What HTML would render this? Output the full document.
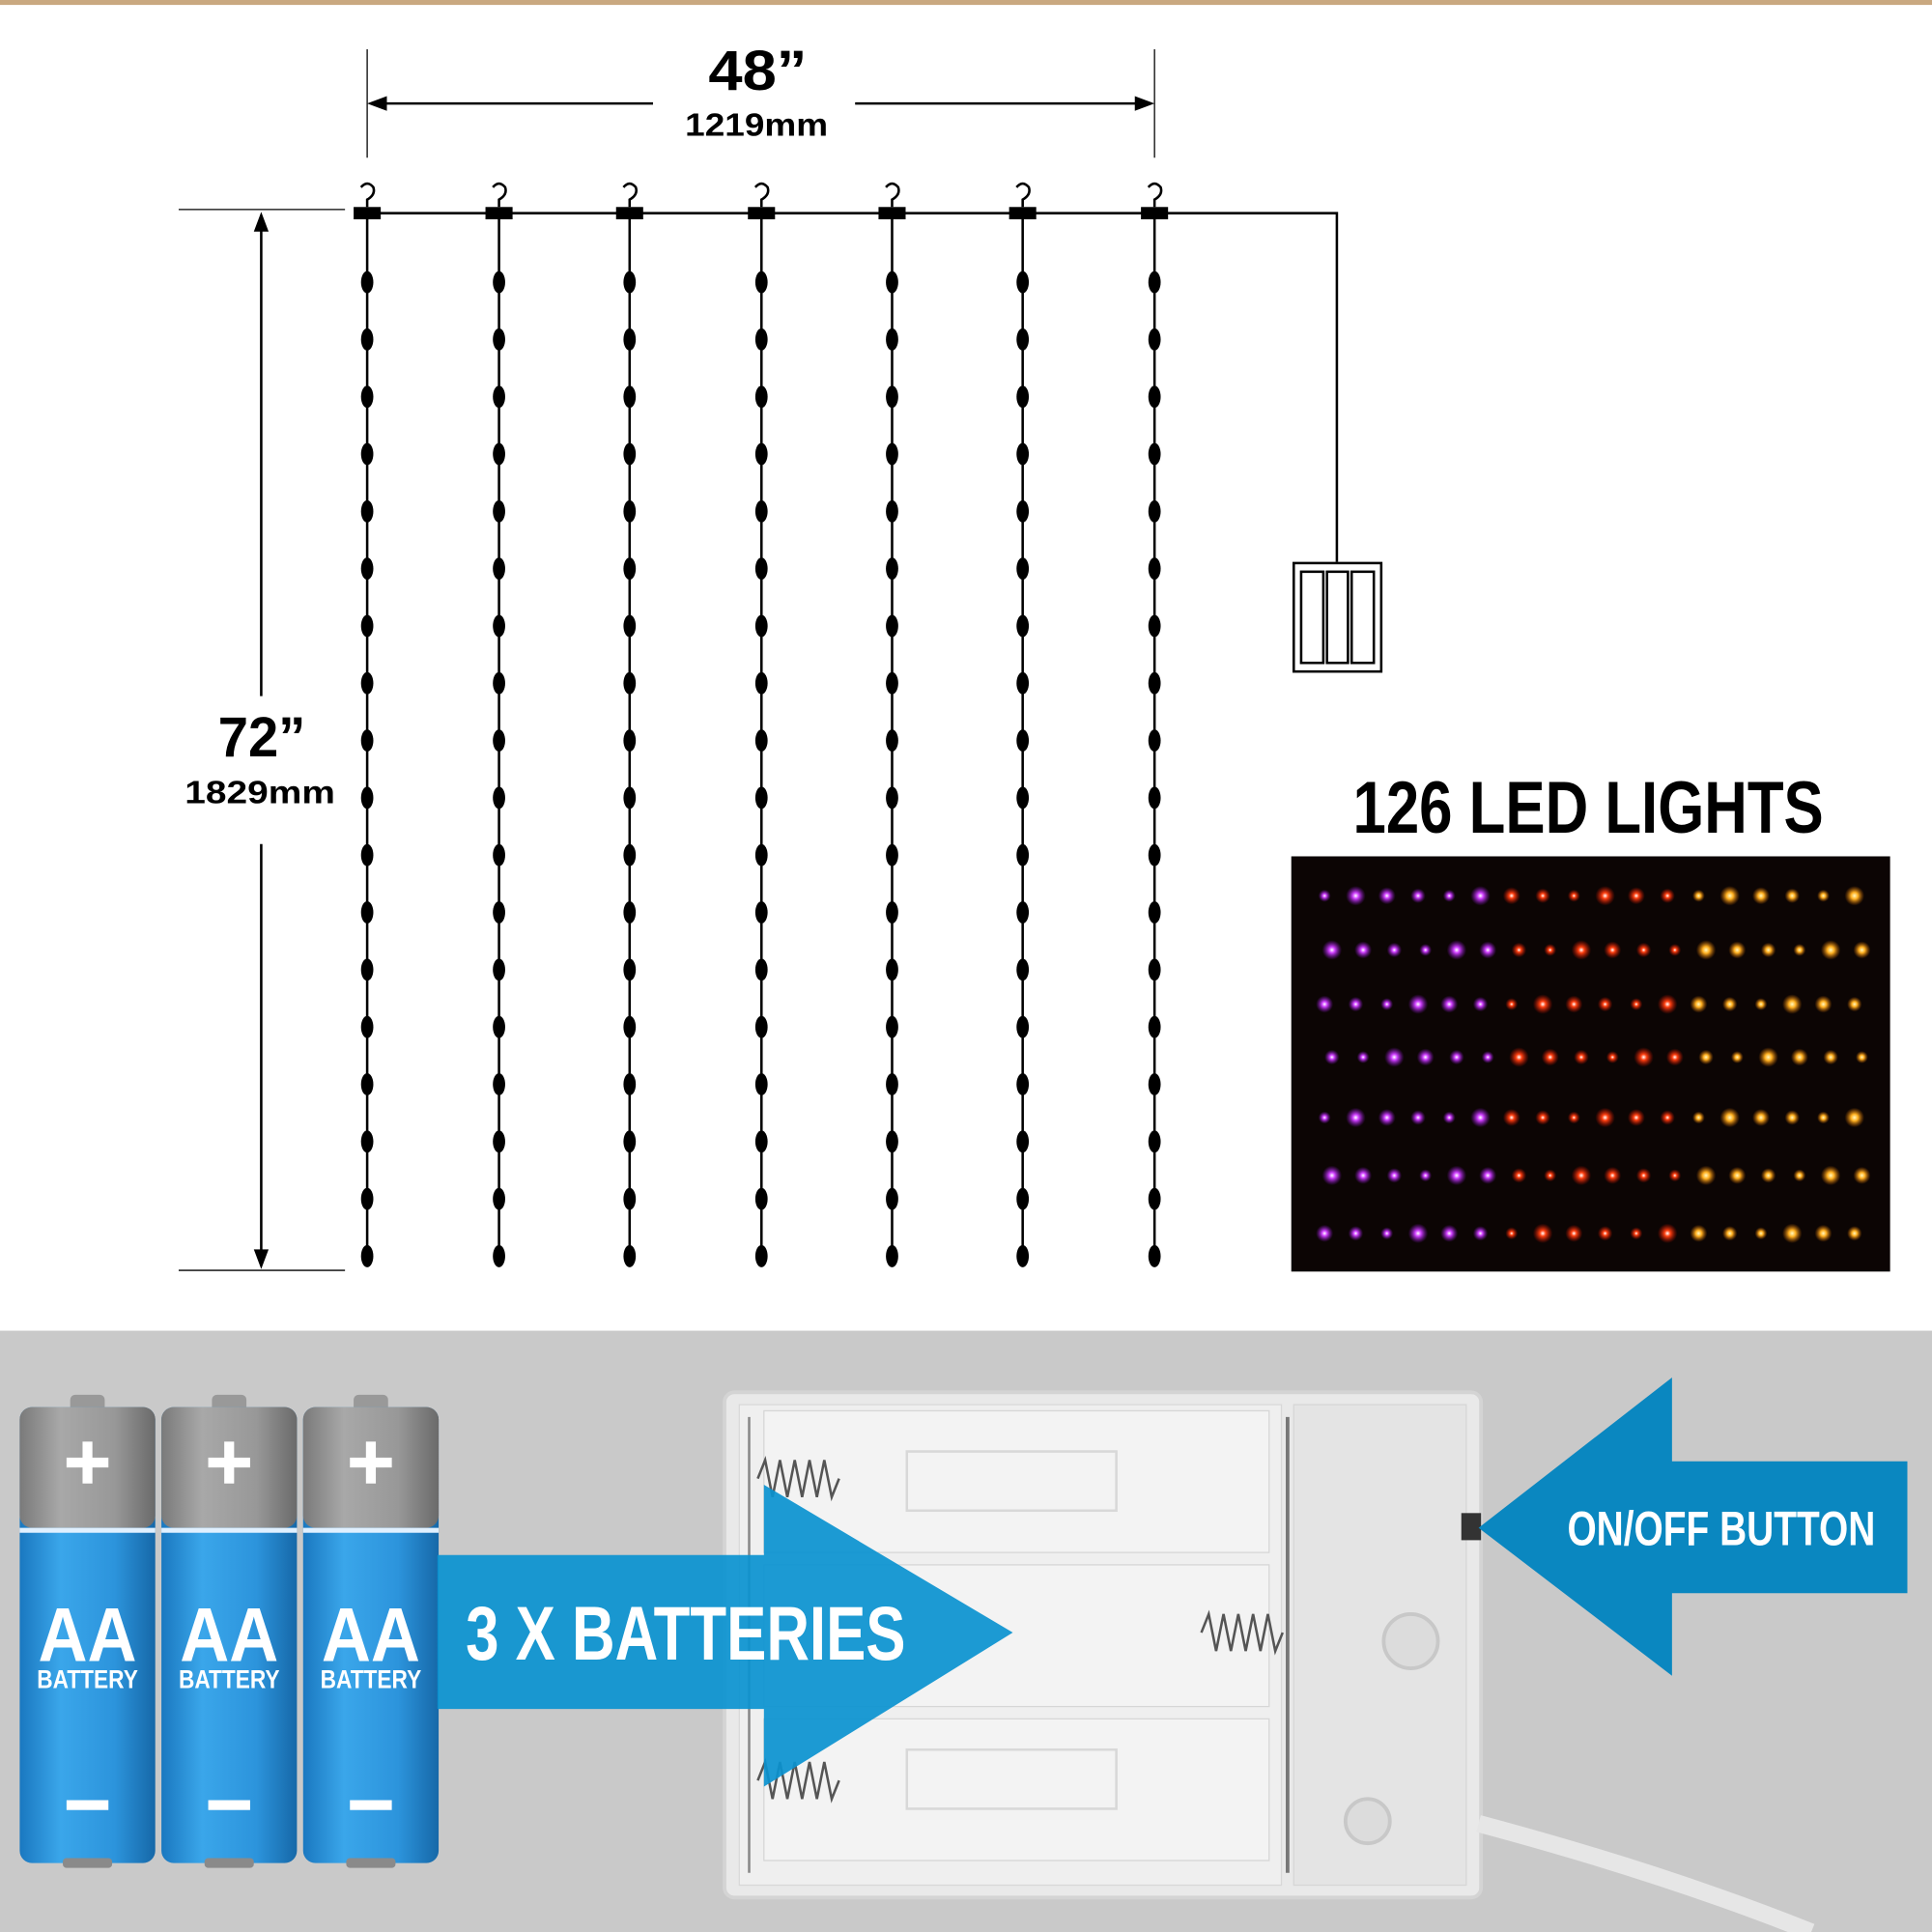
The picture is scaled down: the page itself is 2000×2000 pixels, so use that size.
<!DOCTYPE html>
<html><head><meta charset="utf-8"><style>
html,body{margin:0;padding:0;background:#fff}
svg{display:block}
.t{font-family:"Liberation Sans Narrow","Liberation Sans",sans-serif;font-weight:bold}
</style></head><body>
<svg id="s" width="2000" height="2000" viewBox="0 0 1568 1568" xmlns="http://www.w3.org/2000/svg">
<defs>
<radialGradient id="gp"><stop offset="0" stop-color="#fff"/><stop offset="0.3" stop-color="#d040ff"/><stop offset="1" stop-color="#8010c0" stop-opacity="0"/></radialGradient>
<radialGradient id="gr"><stop offset="0" stop-color="#fff"/><stop offset="0.3" stop-color="#ff4010"/><stop offset="1" stop-color="#c01000" stop-opacity="0"/></radialGradient>
<radialGradient id="gy"><stop offset="0" stop-color="#fff8c0"/><stop offset="0.35" stop-color="#ffb020"/><stop offset="1" stop-color="#c06000" stop-opacity="0"/></radialGradient>
<linearGradient id="bb" x1="0" x2="1"><stop offset="0" stop-color="#1a78c0"/><stop offset="0.3" stop-color="#3aa6ea"/><stop offset="0.7" stop-color="#2c94dc"/><stop offset="1" stop-color="#1668a8"/></linearGradient>
<linearGradient id="bg" x1="0" x2="1"><stop offset="0" stop-color="#7a7a7a"/><stop offset="0.3" stop-color="#a8a8a8"/><stop offset="0.7" stop-color="#989898"/><stop offset="1" stop-color="#6a6a6a"/></linearGradient>
</defs>
<rect x="0" y="0" width="1568" height="4" fill="#c9a880"/>
<g stroke="#000" fill="none">
<line x1="298" y1="40" x2="298" y2="128" stroke-width="1"/>
<line x1="937" y1="40" x2="937" y2="128" stroke-width="1"/>
<line x1="302" y1="84" x2="530" y2="84" stroke-width="2"/>
<line x1="694" y1="84" x2="933" y2="84" stroke-width="2"/>
<line x1="145" y1="170" x2="280" y2="170" stroke-width="1"/>
<line x1="145" y1="1031" x2="280" y2="1031" stroke-width="1"/>
<line x1="212" y1="176" x2="212" y2="565" stroke-width="2"/>
<line x1="212" y1="685" x2="212" y2="1026" stroke-width="2"/>
<polyline points="288,173 1085,173 1085,456" stroke-width="2"/>
<rect x="1050" y="457" width="71" height="88" stroke-width="2"/>
<rect x="1056" y="464" width="18" height="74" stroke-width="2"/>
<rect x="1077" y="464" width="17" height="74" stroke-width="2"/>
<rect x="1097" y="464" width="18" height="74" stroke-width="2"/>
</g>
<polygon points="298,84 314,78 314,90" fill="#000"/>
<polygon points="937,84 921,78 921,90" fill="#000"/>
<polygon points="212,172 206,188 218,188" fill="#000"/>
<polygon points="212,1030 206,1014 218,1014" fill="#000"/>
<text x="575" y="73" class="t" font-size="46" textLength="80" lengthAdjust="spacingAndGlyphs">48”</text>
<text x="556" y="110" class="t" font-size="26" textLength="116" lengthAdjust="spacingAndGlyphs">1219mm</text>
<text x="177" y="614" class="t" font-size="46" textLength="71" lengthAdjust="spacingAndGlyphs">72”</text>
<text x="150" y="652" class="t" font-size="26" textLength="122" lengthAdjust="spacingAndGlyphs">1829mm</text>
<g id="cols"></g>
<text x="1098" y="676" class="t" font-size="60" textLength="382" lengthAdjust="spacingAndGlyphs">126 LED LIGHTS</text>
<rect x="1048" y="695" width="486" height="337" fill="#0c0504"/>
<g id="leds"></g>
<rect x="0" y="1080" width="1568" height="488" fill="#c9c9c9"/>
<rect x="588" y="1130" width="614" height="410" rx="8" fill="#e9e9e9" stroke="#d4d4d4" stroke-width="3"/>
<rect x="600" y="1140" width="440" height="390" fill="#efefef" stroke="#d8d8d8"/>
<rect x="620" y="1145" width="410" height="115" fill="#f3f3f3" stroke="#d6d6d6"/>
<rect x="620" y="1270" width="410" height="115" fill="#f3f3f3" stroke="#d6d6d6"/>
<rect x="620" y="1395" width="410" height="115" fill="#f3f3f3" stroke="#d6d6d6"/>
<rect x="736" y="1178" width="170" height="48" fill="none" stroke="#d8d8d8" stroke-width="2"/>
<rect x="736" y="1420" width="170" height="48" fill="none" stroke="#d8d8d8" stroke-width="2"/>
<rect x="1050" y="1140" width="140" height="390" fill="#e4e4e4" stroke="#d6d6d6"/>
<circle cx="1145" cy="1332" r="22" fill="#dcdcdc" stroke="#c8c8c8" stroke-width="3"/>
<circle cx="1110" cy="1478" r="18" fill="#dcdcdc" stroke="#c8c8c8" stroke-width="3"/>
<line x1="1045" y1="1150" x2="1045" y2="1520" stroke="#777" stroke-width="3"/>
<line x1="608" y1="1150" x2="608" y2="1520" stroke="#888" stroke-width="2"/>
<path d="M1200 1480 Q1350 1520 1470 1568" stroke="#e6e6e6" stroke-width="14" fill="none"/>
<g stroke="#555" stroke-width="2" fill="none">
<path d="M615 1200 l6 -15 l6 30 l6 -30 l6 30 l6 -30 l6 30 l6 -30 l6 30 l6 -30 l6 30 l6 -15"/>
<path d="M615 1445 l6 -15 l6 30 l6 -30 l6 30 l6 -30 l6 30 l6 -30 l6 30 l6 -30 l6 30 l6 -15"/>
<path d="M975 1325 l6 -15 l6 30 l6 -30 l6 30 l6 -30 l6 30 l6 -30 l6 30 l6 -30 l6 30 l6 -15"/>
</g>
<rect x="1186" y="1228" width="16" height="22" fill="#333"/>
<g id="bats"></g>
<polygon points="355,1262 620,1262 620,1205 822,1325 620,1450 620,1387 355,1387" fill="#0a93d0" opacity="0.92"/>
<text x="378" y="1347" class="t" font-size="62" fill="#fff" textLength="357" lengthAdjust="spacingAndGlyphs">3 X BATTERIES</text>
<polygon points="1200,1240 1357,1118 1357,1186 1548,1186 1548,1293 1357,1293 1357,1360" fill="#0a87c0"/>
<text x="1272" y="1254" class="t" font-size="39" fill="#fff" textLength="250" lengthAdjust="spacingAndGlyphs">ON/OFF BUTTON</text>
</svg>
<script>
var NS="http://www.w3.org/2000/svg";
function el(p,n,a){var e=document.createElementNS(NS,n);for(var k in a)e.setAttribute(k,a[k]);p.appendChild(e);return e;}
var cols=document.getElementById("cols");
[298,405,511,618,724,830,937].forEach(function(x){
 el(cols,"line",{x1:x,y1:173,x2:x,y2:1020,stroke:"#000","stroke-width":2});
 el(cols,"rect",{x:x-11,y:168,width:22,height:10,fill:"#000"});
 el(cols,"path",{d:"M"+x+" 168 L"+x+" 162 Q"+(x+7)+" 158 "+(x+5)+" 152 Q"+x+" 146 "+(x-5)+" 152",stroke:"#000","stroke-width":2,fill:"none"});
 for(var i=0;i<18;i++){el(cols,"ellipse",{cx:x,cy:229+i*46.5,rx:5,ry:9,fill:"#000"});}
});
var leds=document.getElementById("leds");
var ys=[727,771,815,858,907,954,1001];
ys.forEach(function(y,r){
 for(var i=0;i<18;i++){
  var x=1075+i*25.3+(r%2?6:0);
  var g=i<6?"gp":(i<12?"gr":"gy");
  var rr=5+((i*7+r*3)%4);
  el(leds,"circle",{cx:x,cy:y,r:rr,fill:"url(#"+g+")"});
 }
});
var bats=document.getElementById("bats");
[16,131,246].forEach(function(x){
 var w=110,cx=x+w/2;
 el(bats,"rect",{x:cx-14,y:1132,width:28,height:14,rx:4,fill:"#999"});
 el(bats,"rect",{x:x,y:1142,width:w,height:370,rx:10,fill:"url(#bb)"});
 el(bats,"rect",{x:x,y:1142,width:w,height:98,rx:10,fill:"url(#bg)"});
 el(bats,"rect",{x:x,y:1240,width:w,height:4,fill:"#e0f0ff"});
 el(bats,"rect",{x:cx-4,y:1170,width:8,height:34,fill:"#fff"});
 el(bats,"rect",{x:cx-17,y:1183,width:34,height:8,fill:"#fff"});
 el(bats,"rect",{x:cx-17,y:1461,width:34,height:8,fill:"#fff"});
 el(bats,"rect",{x:cx-20,y:1508,width:40,height:8,rx:3,fill:"#8a8a8a"});
 var t=el(bats,"text",{x:cx-40,y:1348,"class":"t","font-size":"62",fill:"#fff",textLength:"80",lengthAdjust:"spacingAndGlyphs"});t.textContent="AA";
 var t2=el(bats,"text",{x:cx-41,y:1370,"class":"t","font-size":"21",fill:"#fff",textLength:"82",lengthAdjust:"spacingAndGlyphs"});t2.textContent="BATTERY";
});
</script>
</body></html>
